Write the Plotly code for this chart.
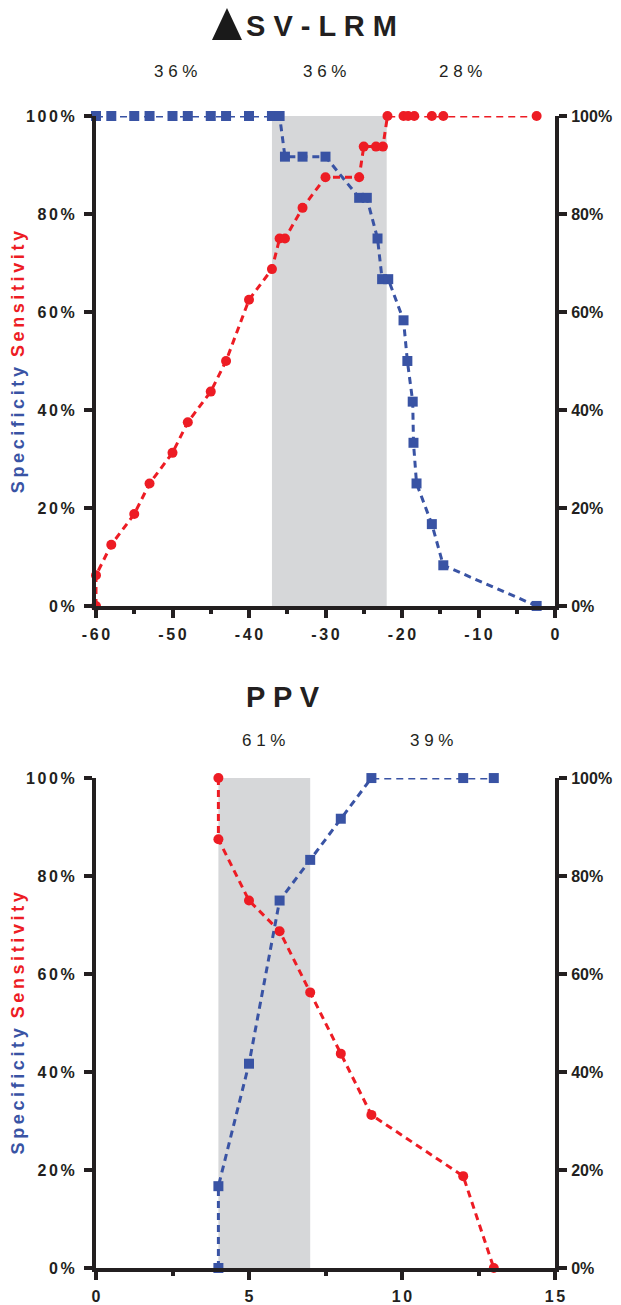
import plotly.graph_objects as go

# ---------------- data ----------------
# Panel 1: SV-LRM thresholds
svlrm_spec_x = [-60, -58, -55, -53, -50, -48, -45, -43, -40, -37, -36, -35.3, -33, -30,
                -25.6, -24.6, -23.2, -22.6, -21.8, -19.8, -19.3, -18.6, -18.5, -18.1,
                -16.1, -14.6, -2.4]
svlrm_spec_y = [100, 100, 100, 100, 100, 100, 100, 100, 100, 100, 100, 91.7, 91.7, 91.7,
                83.3, 83.3, 75, 66.7, 66.7, 58.3, 50, 41.7, 33.3, 25,
                16.7, 8.3, 0]
svlrm_sens_x = [-60, -60, -58, -55, -53, -50, -48, -45, -43, -40, -37, -36, -35.3, -33,
                -30, -25.6, -25, -23.4, -22.5, -21.9, -19.8, -19.2, -18.4, -16.1,
                -14.6, -2.4]
svlrm_sens_y = [0, 6.25, 12.5, 18.75, 25, 31.25, 37.5, 43.75, 50, 62.5, 68.75, 75, 75, 81.25,
                87.5, 87.5, 93.75, 93.75, 93.75, 100, 100, 100, 100, 100,
                100, 100]
svlrm_zone = [-37, -22]
svlrm_pct_labels = ["3 6 %", "3 6 %", "2 8 %"]
svlrm_pct_x = [-49.6, -30.1, -12.3]
svlrm_xticks = [-60, -50, -40, -30, -20, -10, 0]

# Panel 2: PPV thresholds
ppv_spec_x = [4, 4, 5, 6, 7, 8, 9, 12, 13]
ppv_spec_y = [0, 16.7, 41.7, 75, 83.3, 91.7, 100, 100, 100]
ppv_sens_x = [4, 4, 5, 6, 7, 8, 9, 12, 13]
ppv_sens_y = [100, 87.5, 75, 68.75, 56.25, 43.75, 31.25, 18.75, 0]
ppv_zone = [4, 7]
ppv_pct_labels = ["6 1 %", "3 9 %"]
ppv_pct_x = [5.48, 10.96]
ppv_xticks = [0, 5, 10, 15]

y_ticks = [0, 20, 40, 60, 80, 100]

# ---------------- style ----------------
BLUE = "#3953A4"
RED = "#ED1C24"
BLACK = "#231F20"
GREY = "#D6D7D9"
FONT = "Liberation Sans, Arial, sans-serif"
SP = "\u2006"


def spaced(s, sep=SP):
    return sep.join(list(s))


ytext = [spaced(f"{v}%") for v in y_ticks]
ytext_right = [f"{v}%" for v in y_ticks]

fig = go.Figure()


def add_panel(xs_spec, ys_spec, xs_sens, ys_sens, xa, ya, yr):
    fig.add_trace(go.Scatter(x=xs_spec, y=ys_spec, xaxis=xa, yaxis=ya, mode="lines+markers",
                             line=dict(color=BLUE, width=3, dash="7px,5px"),
                             marker=dict(symbol="square", size=10, color=BLUE),
                             cliponaxis=False, showlegend=False))
    fig.add_trace(go.Scatter(x=xs_sens, y=ys_sens, xaxis=xa, yaxis=ya, mode="lines+markers",
                             line=dict(color=RED, width=3, dash="7px,5px"),
                             marker=dict(symbol="circle", size=10, color=RED),
                             cliponaxis=False, showlegend=False))
    # invisible trace to carry right axis
    fig.add_trace(go.Scatter(x=xs_spec, y=ys_spec, xaxis=xa, yaxis=yr, mode="markers",
                             marker=dict(opacity=0), hoverinfo="skip", showlegend=False))


add_panel(svlrm_spec_x, svlrm_spec_y, svlrm_sens_x, svlrm_sens_y, "x", "y", "y3")
add_panel(ppv_spec_x, ppv_spec_y, ppv_sens_x, ppv_sens_y, "x2", "y2", "y4")

# shaded zones
fig.add_shape(type="rect", xref="x", yref="y", x0=svlrm_zone[0], x1=svlrm_zone[1], y0=0, y1=100,
              fillcolor=GREY, line=dict(width=0), layer="below")
fig.add_shape(type="rect", xref="x2", yref="y2", x0=ppv_zone[0], x1=ppv_zone[1], y0=0, y1=100,
              fillcolor=GREY, line=dict(width=0), layer="below")

# title triangle glyph (decoration)
fig.add_shape(type="path", xref="paper", yref="paper",
              path="M 0.2527 1.0660 L 0.2854 1.0937 L 0.3181 1.0660 Z",
              fillcolor="#1A1A1A", line=dict(width=0), layer="above")

tickfont = dict(family=FONT, size=16, color=BLACK, weight="bold")

common_x = dict(showline=True, linewidth=4, linecolor=BLACK, ticks="outside", ticklen=8,
                tickwidth=4, tickcolor=BLACK, showgrid=False, zeroline=False,
                tickfont=tickfont, ticklabelstandoff=3, fixedrange=True, automargin=False)
common_y = dict(showline=True, linewidth=4, linecolor=BLACK, ticks="outside", ticklen=8,
                tickwidth=4, tickcolor=BLACK, showgrid=False, zeroline=False,
                tickfont=tickfont, range=[0, 100], tickmode="array", tickvals=y_ticks,
                ticktext=ytext, ticklabelstandoff=6, fixedrange=True, automargin=False)

top_dom = [0.5747, 1.0]
bot_dom = [0.0, 0.4253]

# the page body adds an 8px offset, so the figure is sized to fit the window
fig.update_layout(
    width=613, height=1297, autosize=False,
    margin=dict(l=88, r=66, t=108, b=37),
    plot_bgcolor="white", paper_bgcolor="white",
    xaxis=dict(common_x, domain=[0, 1], anchor="y", range=[-60, 0], tickmode="array",
               tickvals=svlrm_xticks, ticktext=[spaced(str(v)) for v in svlrm_xticks],
               minor=dict(dtick=5, tick0=0, ticks="outside", ticklen=4, tickwidth=4,
                          tickcolor=BLACK, showgrid=False)),
    xaxis2=dict(common_x, domain=[0, 1], anchor="y2", range=[0, 15], tickmode="array",
                tickvals=ppv_xticks, ticktext=[spaced(str(v)) for v in ppv_xticks],
                minor=dict(dtick=2.5, tick0=0, ticks="outside", ticklen=4, tickwidth=4,
                           tickcolor=BLACK, showgrid=False)),
    yaxis=dict(common_y, domain=top_dom, anchor="x"),
    yaxis2=dict(common_y, domain=bot_dom, anchor="x2"),
    yaxis3=dict(common_y, overlaying="y", side="right", anchor="x", ticklabelstandoff=1,
                ticktext=ytext_right),
    yaxis4=dict(common_y, overlaying="y2", side="right", anchor="x2", ticklabelstandoff=1,
                ticktext=ytext_right),
)

ann_font = dict(family=FONT, size=17, color=BLACK)
for lbl, xv in zip(svlrm_pct_labels, svlrm_pct_x):
    fig.add_annotation(x=xv, y=1.039, xref="x", yref="paper", text=lbl, showarrow=False,
                       font=ann_font, xanchor="center", yanchor="middle")
for lbl, xv in zip(ppv_pct_labels, ppv_pct_x):
    fig.add_annotation(x=xv, y=0.4575, xref="x2", yref="paper", text=lbl, showarrow=False,
                       font=ann_font, xanchor="center", yanchor="middle")

title_font = dict(family=FONT, size=29, color=BLACK, weight="bold")
fig.add_annotation(x=-30.46, y=1.0777, xref="x", yref="paper", text="S V - L R M",
                   showarrow=False, font=title_font, xanchor="center", yanchor="middle")
fig.add_annotation(x=6.1, y=0.4957, xref="x2", yref="paper", text="P P V",
                   showarrow=False, font=title_font, xanchor="center", yanchor="middle")

ytitle = (f"<span style='color:{BLUE}'>{'\u2009'.join('Specificity')}</span>  "
          f"<span style='color:{RED}'>{'\u2009'.join('Sensitivity')}</span>")
for yc in [0.786, 0.212]:
    fig.add_annotation(x=-0.1707, y=yc, xref="paper", yref="paper", text=ytitle,
                       textangle=-90, showarrow=False,
                       font=dict(family=FONT, size=18, color=BLACK, weight="bold"),
                       xanchor="center", yanchor="middle")

fig.write_html("out.html")
